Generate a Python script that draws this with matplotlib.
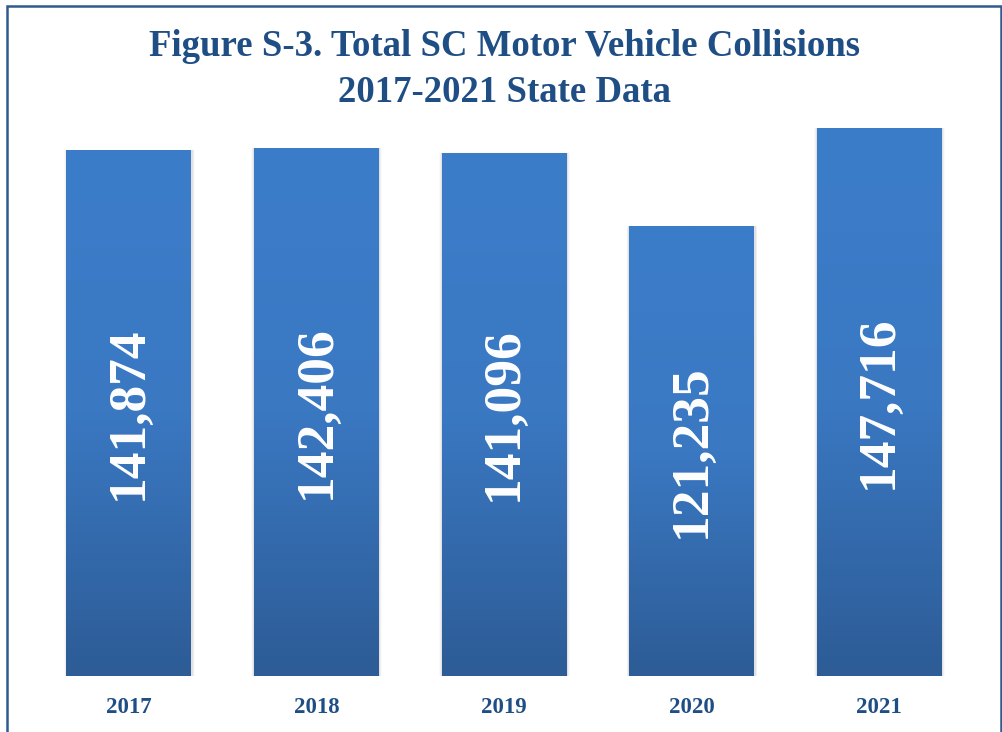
import matplotlib.pyplot as plt
import numpy as np
from matplotlib.patches import Rectangle
from matplotlib.colors import LinearSegmentedColormap

years = ['2017', '2018', '2019', '2020', '2021']
collisions = [141874, 142406, 141096, 121235, 147716]
title_lines = ['Figure S-3. Total SC Motor Vehicle Collisions', '2017-2021 State Data']

navy = '#1F4E85'
serif = ['Liberation Serif', 'DejaVu Serif']

W, H = 1003, 732
fig = plt.figure(figsize=(W / 100, H / 100), dpi=100, facecolor='white')

# outer frame (bottom edge runs off the picture)
fig.patches.append(Rectangle((7 / W, -0.02), (1001 - 7) / W, 1.02 - 6 / H,
                             transform=fig.transFigure, fill=False,
                             edgecolor='#2E5A8E', linewidth=1.8))

ymax = 150000
top_px = 676 - 548 / 147716 * ymax
ax = fig.add_axes([35 / W, (H - 676) / H, (973 - 35) / W, (676 - top_px) / H])
ax.set_xlim(-0.5, 4.5)
ax.set_ylim(0, ymax)
ax.axis('off')

grad = LinearSegmentedColormap.from_list('bargrad', ['#2D5C96', '#3A78C2', '#3C7DCA'])
g = np.linspace(0, 1, 256).reshape(-1, 1)

bars = ax.bar(range(len(years)), collisions, width=0.665, color='#3570B5', zorder=2)
for i, (b, v) in enumerate(zip(bars, collisions)):
    x0, w = b.get_x(), b.get_width()
    # soft shadow
    for k, a in enumerate([0.06, 0.04, 0.02]):
        d = 0.012 * (k + 1)
        ax.add_patch(Rectangle((x0 - d * 0.4, 0), w + d * 0.8 + 0.004, v + d * 600,
                               facecolor='black', alpha=a, linewidth=0, zorder=1))
    im = ax.imshow(g, cmap=grad, origin='lower', aspect='auto',
                   extent=(x0, x0 + w, 0, v), zorder=3)
    im.set_clip_path(b)
    ax.text(i, v / 2, f'{v:,}', rotation=90, ha='center', va='center',
            color='white', fontsize=38.5, fontweight='bold', family=serif, zorder=4)
    ax.text(i, -8500, years[i], ha='center', va='center', color=navy,
            fontsize=16.5, fontweight='bold', family=serif)

fig.text(505 / W, 1 - 46 / H, title_lines[0], ha='center', va='center',
         color=navy, fontsize=26.5, fontweight='bold', family=serif)
fig.text(505 / W, 1 - 92 / H, title_lines[1], ha='center', va='center',
         color=navy, fontsize=26.5, fontweight='bold', family=serif)

fig.savefig('out.png', dpi=100, facecolor='white')
